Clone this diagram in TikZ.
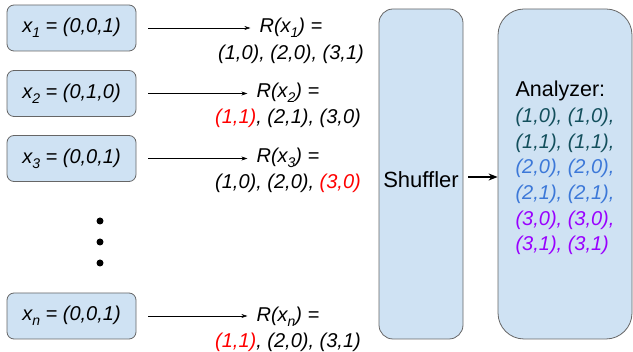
\documentclass[tikz,border=0pt]{standalone}
\usepackage{fontspec}
\setmainfont{Liberation Sans}
\usetikzlibrary{positioning,arrows.meta}
\definecolor{boxblue}{HTML}{CFE2F3}
\definecolor{boxline}{HTML}{666666}
\definecolor{tealdark}{HTML}{134F5C}
\definecolor{cornblue}{HTML}{3C78D8}
\definecolor{violet}{HTML}{9900FF}
% low, fairly large subscript
\newcommand\lowsub[1]{\raisebox{-5pt}{\fontsize{14}{14}\selectfont #1}}
\begin{document}
\begin{tikzpicture}[x=1pt,y=-1pt,
  inbox/.style={draw=boxline,fill=boxblue,line width=0.8pt,rounded corners=7pt,
    minimum width=129pt,minimum height=46pt,inner sep=0pt,
    font=\fontsize{20}{25}\selectfont\itshape},
  bigbox/.style={draw=boxline,fill=boxblue,line width=0.8pt,
    minimum height=330pt,inner sep=0pt},
  lbl/.style={inner sep=4pt,font=\fontsize{20}{25}\selectfont\itshape},
  dot/.style={circle,fill=black,inner sep=0pt,minimum size=7pt},
  flow/.style={-{Stealth[length=6pt,width=4pt]},line width=0.5pt,shorten <=12pt,shorten >=5pt}
  ]
\useasboundingbox (0,0) rectangle (633,352);
% the clients, one box per input
\node[inbox] (inp1) at (71.5,28) {x\lowsub{1} = (0,0,1)};
\node[inbox] (inp2) at (71.5,93.5) {x\lowsub{2} = (0,1,0)};
\node[inbox] (inp3) at (71.5,158.5) {x\lowsub{3} = (0,0,1)};
\node[inbox] (inpn) at (71.5,316) {x\lowsub{n} = (0,0,1)};
% the dots for the missing rows
\node[dot] (d1) at (100,221) {};
\node[dot] (d2) at (100,242) {};
\node[dot] (d3) at (100,263) {};
% randomized reports, first line and second line
\node[lbl] (rx1) at (291,28) {R(x\lowsub{1}) =};
\node[lbl] (out1) at (291,54) {(1,0), (2,0), (3,1)};
\node[lbl] (rx2) at (288,93) {R(x\lowsub{2}) =};
\node[lbl] (out2) at (288,118) {\textcolor{red}{(1,1)}, (2,1), (3,0)};
\node[lbl] (rx3) at (288,158) {R(x\lowsub{3}) =};
\node[lbl] (out3) at (288,183) {(1,0), (2,0), \textcolor{red}{(3,0)}};
\node[lbl] (rxn) at (288,317) {R(x\lowsub{n}) =};
\node[lbl] (outn) at (288,342) {\textcolor{red}{(1,1)}, (2,0), (3,1)};
\draw[flow] (inp1) -- (inp1 -| rx1.west);
\draw[flow] (inp2) -- (inp2 -| rx2.west);
\draw[flow] (inp3) -- (inp3 -| rx3.west);
\draw[flow] (inpn) -- (inpn -| rxn.west);
% shuffler and analyzer
\node[bigbox,rounded corners=14pt,minimum width=84pt] (shuf) at (421,174) {};
\node[font=\fontsize{22}{25}\selectfont] (shuftext) at (421,180) {Shuffler};
\node[bigbox,rounded corners=26pt,minimum width=134pt] (ana) at (565,174) {};
\node[align=left,inner sep=0pt,font=\fontsize{20}{25.7}\selectfont] (anatext) at (565,168)
  {{\fontsize{21.5}{25.7}\selectfont Analyzer:}\\
   \textcolor{tealdark}{\itshape (1,0), (1,0),}\\
   \textcolor{tealdark}{\itshape (1,1), (1,1),}\\
   \textcolor{cornblue}{\itshape (2,0), (2,0),}\\
   \textcolor{cornblue}{\itshape (2,1), (2,1),}\\
   \textcolor{violet}{\itshape (3,0), (3,0),}\\
   \textcolor{violet}{\itshape (3,1), (3,1)}};
\draw[-{Stealth[length=9pt,width=7pt]},line width=1.3pt,shorten <=5pt]
  ([yshift=-3pt]shuf.east) -- ([yshift=-3pt]ana.west);
\end{tikzpicture}
\end{document}
